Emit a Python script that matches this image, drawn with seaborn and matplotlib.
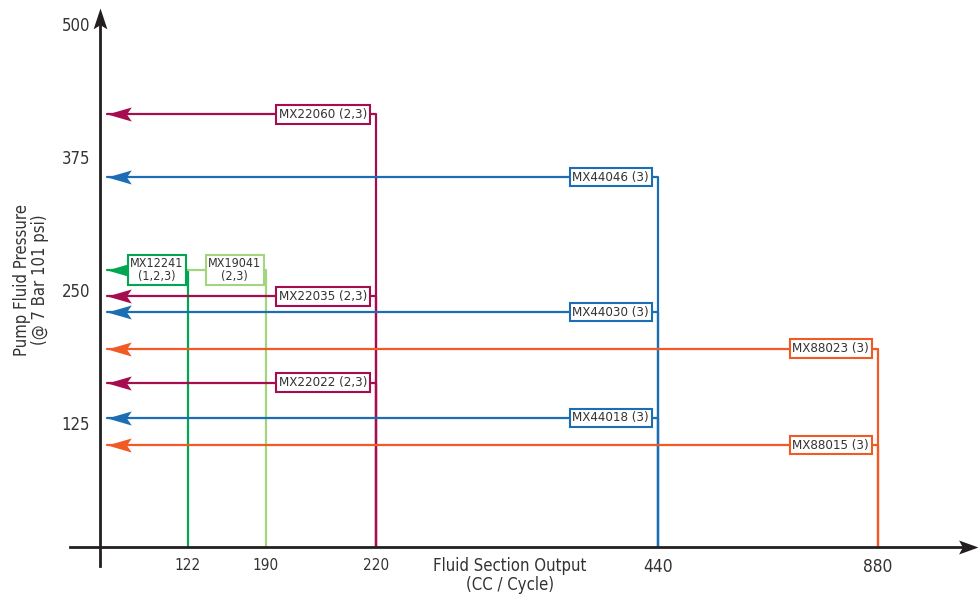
import numpy as np
import pandas as pd
import matplotlib
matplotlib.use("Agg")
import matplotlib.pyplot as plt
from matplotlib.path import Path
from matplotlib import font_manager
import seaborn as sns

# ---------------- data ----------------
x_ticks = [122, 190, 220, 440, 880]
x_tick_labels = ["122", "190", "220", "440", "880"]
y_ticks = [125, 250, 375, 500]
y_tick_labels = ["125", "250", "375", "500"]

models = ["MX22060 (2,3)", "MX44046 (3)", "MX12241\n(1,2,3)", "MX19041\n(2,3)",
          "MX22035 (2,3)", "MX44030 (3)", "MX88023 (3)", "MX22022 (2,3)",
          "MX44018 (3)", "MX88015 (3)"]
outputs = [220, 440, 122, 190, 220, 440, 880, 220, 440, 880]      # CC / cycle
pressures = [415, 356, 269, 269, 244, 229, 195, 163, 130, 104]    # fluid pressure
has_arrow = [True, True, True, False, True, True, True, True, True, True]

colors = {122: "#00A651", 190: "#A3D47E", 220: "#A50D4F", 440: "#1C6EB4", 880: "#F15A24"}

# ---------------- fonts ----------------
sns.set_theme(style="white")
names = {f.name for f in font_manager.fontManager.ttflist}
fam = "Liberation Sans Narrow" if "Liberation Sans Narrow" in names else "DejaVu Sans"
plt.rcParams["font.family"] = [fam, "DejaVu Sans"]
if fam == "DejaVu Sans":
    plt.rcParams["font.stretch"] = "condensed"

INK = "#231F20"
TXT = "#333333"

# ---------------- scales (layout) ----------------
W, H = 979, 597
KV = np.array([0, 122, 190, 220, 440, 880], float)          # value knots
KP = np.array([100, 188, 266, 376, 658, 878], float)        # pixel knots
s_lo = (KP[1] - KP[0]) / (KV[1] - KV[0])
s_hi = (KP[-1] - KP[-2]) / (KV[-1] - KV[-2])

def fwd(v):
    v = np.asarray(v, float)
    out = np.interp(v, KV, KP)
    out = np.where(v < KV[0], KP[0] + (v - KV[0]) * s_lo, out)
    out = np.where(v > KV[-1], KP[-1] + (v - KV[-1]) * s_hi, out)
    return out

def inv(p):
    p = np.asarray(p, float)
    out = np.interp(p, KP, KV)
    out = np.where(p < KP[0], KV[0] + (p - KP[0]) / s_lo, out)
    out = np.where(p > KP[-1], KV[-1] + (p - KP[-1]) / s_hi, out)
    return out

Y0, YS = 556.0, 1.064            # pixel = Y0 - YS * value
def yval(p):
    return (Y0 - p) / YS

AXIS_Y = float(yval(547))        # baseline of the x axis
ARROW_X = float(inv(107))        # tip of the left-pointing arrows

fig = plt.figure(figsize=(W / 100, H / 100), dpi=100)
ax = fig.add_axes([0, 0, 1, 1])
ax.set_xscale("function", functions=(fwd, inv))
ax.set_xlim(float(inv(0)), float(inv(W)))
ax.set_ylim(yval(H), yval(0))
ax.patch.set_alpha(0)

# ---------------- connector lines via seaborn ----------------
rows = []
for m, o, p, a in zip(models, outputs, pressures, has_arrow):
    x_start = ARROW_X if a else 122
    for xx, yy in [(x_start, p), (o, p), (o, AXIS_Y)]:
        rows.append({"model": m, "x": xx, "y": yy})
df = pd.DataFrame(rows)
pal = {m: colors[o] for m, o in zip(models, outputs)}
sns.lineplot(data=df, x="x", y="y", hue="model", units="model", estimator=None,
             sort=False, palette=pal, linewidth=1.6, legend=False, ax=ax, zorder=2)

# arrowheads
left_arrow = Path([(0, 0), (1, 0.29), (0.8, 0), (1, -0.29), (0, 0)],
                  [Path.MOVETO, Path.LINETO, Path.LINETO, Path.LINETO, Path.CLOSEPOLY])
for m, o, p, a in zip(models, outputs, pressures, has_arrow):
    if a:
        ax.plot([ARROW_X], [p], marker=left_arrow, markersize=35, color=colors[o],
                markeredgewidth=0, linestyle="none", zorder=4)

# label boxes
for m, o, p in zip(models, outputs, pressures):
    two = "\n" in m
    if two:
        ax.annotate(m, xy=(o, p), xytext=(-3.4, 0), textcoords="offset points",
                    ha="right", va="center", ma="center", fontsize=9, color=TXT,
                    linespacing=1.0, zorder=5,
                    bbox=dict(boxstyle="square,pad=0.18", fc="white", ec=colors[o], lw=1.5))
    else:
        ax.annotate(m, xy=(o, p), xytext=(-6.5, 0), textcoords="offset points",
                    ha="right", va="center", fontsize=9.5, color=TXT, zorder=5,
                    bbox=dict(boxstyle="square,pad=0.2", fc="white", ec=colors[o], lw=1.5))

# ---------------- axes ----------------
for s in ["top", "right"]:
    ax.spines[s].set_visible(False)
ax.spines["left"].set_position(("data", 0))
ax.spines["bottom"].set_position(("data", AXIS_Y))
ax.spines["left"].set_bounds(yval(566), yval(20))
ax.spines["bottom"].set_bounds(float(inv(70)), float(inv(965)))
for s in ["left", "bottom"]:
    ax.spines[s].set_color(INK)
    ax.spines[s].set_linewidth(2.0)
    ax.spines[s].set_zorder(3)

up_arrow = Path([(0, 0), (0.33, -1), (0, -0.8), (-0.33, -1), (0, 0)],
                [Path.MOVETO, Path.LINETO, Path.LINETO, Path.LINETO, Path.CLOSEPOLY])
right_arrow = Path([(0, 0), (-1, 0.36), (-0.8, 0), (-1, -0.36), (0, 0)],
                   [Path.MOVETO, Path.LINETO, Path.LINETO, Path.LINETO, Path.CLOSEPOLY])
ax.plot([0], [yval(8)], marker=up_arrow, markersize=30, color=INK, markeredgewidth=0,
        linestyle="none", clip_on=False, zorder=6)
ax.plot([float(inv(978))], [AXIS_Y], marker=right_arrow, markersize=28, color=INK,
        markeredgewidth=0, linestyle="none", clip_on=False, zorder=6)

ax.set_xticks(x_ticks)
ax.set_xticklabels(x_tick_labels)
ax.set_yticks(y_ticks)
ax.set_yticklabels(y_tick_labels)
ax.tick_params(axis="x", length=0, pad=8, labelsize=11, labelcolor=TXT)
ax.tick_params(axis="y", length=0, pad=7, labelsize=12, labelcolor=TXT)
for lab in ax.get_xticklabels():
    if lab.get_text() in ("440", "880"):
        lab.set_fontsize(12.5)
ax.grid(False)

ax.set_xlabel("Fluid Section Output\n(CC / Cycle)", fontsize=12, color=TXT, linespacing=1.05)
ax.xaxis.set_label_coords(510 / W, 1 - 557 / H)
ax.xaxis.label.set_va("top")
ax.set_ylabel("Pump Fluid Pressure\n(@ 7 Bar 101 psi)", fontsize=12, color=TXT, linespacing=1.0)
ax.yaxis.set_label_coords(31 / W, 1 - 280 / H)
ax.yaxis.label.set_va("center")

fig.savefig("out.png", dpi=100)
